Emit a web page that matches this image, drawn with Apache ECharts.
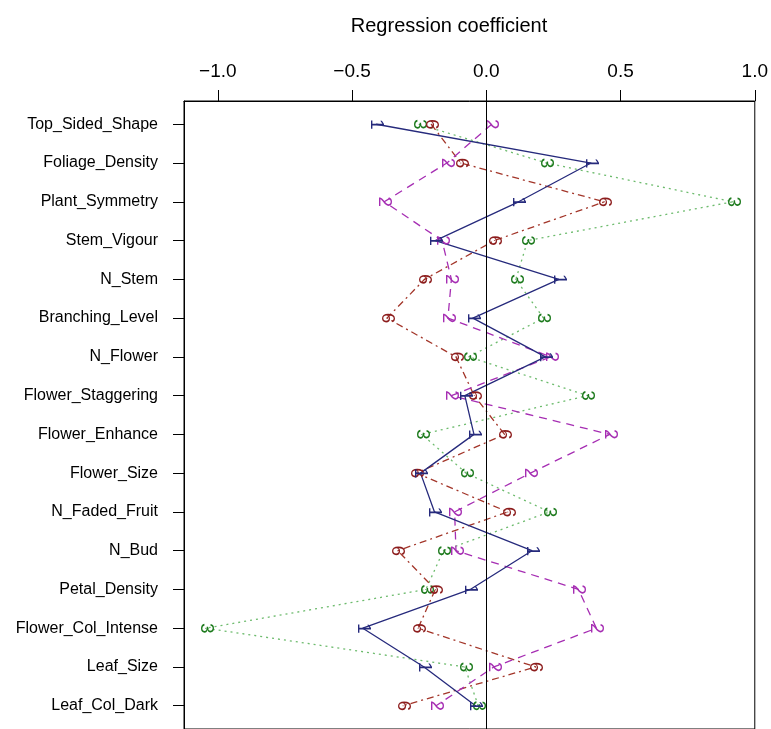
<!DOCTYPE html>
<html>
<head>
    <meta charset="utf-8">
    <script src="https://cdn.jsdelivr.net/npm/echarts@6/dist/echarts.min.js"></script>
</head>
<body style="margin:0">
<div id="main" style="width: 771px;height:729px;"></div>
<script type="text/javascript">
    // traits, top to bottom
    var traits = ['Top_Sided_Shape', 'Foliage_Density', 'Plant_Symmetry', 'Stem_Vigour', 'N_Stem',
        'Branching_Level', 'N_Flower', 'Flower_Staggering', 'Flower_Enhance', 'Flower_Size',
        'N_Faded_Fruit', 'N_Bud', 'Petal_Density', 'Flower_Col_Intense', 'Leaf_Size', 'Leaf_Col_Dark'];

    // regression coefficients per model
    var coef1 = [-0.41, 0.39, 0.12, -0.19, 0.27, -0.05, 0.22, -0.08, -0.046, -0.245, -0.193, 0.17, -0.06, -0.46, -0.232, -0.04];
    var coef2 = [0.02, -0.147, -0.38, -0.165, -0.13, -0.143, 0.24, -0.13, 0.46, 0.164, -0.118, -0.113, 0.343, 0.41, 0.028, -0.187];
    var coef3 = [-0.25, 0.224, 0.918, 0.154, 0.11, 0.213, -0.065, 0.377, -0.24, -0.075, 0.235, -0.16, -0.225, -1.045, -0.08, -0.03];
    var coef6 = [-0.205, -0.095, 0.44, 0.03, -0.23, -0.37, -0.113, -0.045, 0.068, -0.26, 0.08, -0.33, -0.19, -0.254, 0.184, -0.31];

    var xTicks = [-1.0, -0.5, 0.0, 0.5, 1.0];
    var yTicks = traits.map(function (t, i) { return i; });

    function pairs(vals) {
        return vals.map(function (v, i) { return [v, i]; });
    }

    function makeSeries(name, vals, lineColor, textColor, dash) {
        return {
            name: name,
            type: 'line',
            data: pairs(vals),
            symbol: 'circle',
            symbolSize: 1,
            itemStyle: { color: textColor },
            lineStyle: { color: lineColor, width: 1.3, type: dash },
            label: {
                show: true,
                position: 'inside',
                rotate: -90,
                formatter: name,
                color: textColor,
                fontSize: 19,
                fontFamily: 'Liberation Sans'
            },
            emphasis: { disabled: true },
            silent: true
        };
    }

    var myChart = echarts.init(document.getElementById('main'));

    var series = [
        makeSeries('3', coef3, '#6dbb6d', '#1d7a1d', [2, 4]),
        makeSeries('6', coef6, '#a3362a', '#8c1c1c', [7, 4, 2, 4]),
        makeSeries('2', coef2, '#a62eb3', '#a62eb3', [8, 6]),
        makeSeries('1', coef1, '#262a7c', '#262a7c', 'solid')
    ];
    series[3].markLine = {
        silent: true,
        symbol: 'none',
        label: { show: false },
        lineStyle: { color: '#000', type: 'solid', width: 1 },
        data: [{ xAxis: 0 }]
    };

    var option = {
        animation: false,
        backgroundColor: '#fff',
        title: {
            text: 'Regression coefficient',
            left: 444,
            top: 11,
            textAlign: 'center',
            textStyle: { fontSize: 20, fontWeight: 'normal', color: '#000', fontFamily: 'Liberation Sans' }
        },
        grid: {
            left: 184,
            top: 101,
            width: 573,
            height: 637,
            show: true,
            borderColor: '#000',
            borderWidth: 1
        },
        xAxis: {
            type: 'value',
            position: 'top',
            min: -1.126,
            max: 1.0,
            axisLine: { show: true, onZero: false, lineStyle: { color: '#000' } },
            axisTick: { show: true, customValues: xTicks, length: 11, lineStyle: { color: '#000' } },
            axisLabel: {
                customValues: xTicks,
                margin: 20,
                fontSize: 19,
                color: '#000',
                fontFamily: 'Liberation Sans',
                formatter: function (v) {
                    return (v < 0 ? '\u2212' : '') + Math.abs(v).toFixed(1);
                }
            },
            splitLine: { show: false }
        },
        yAxis: {
            type: 'value',
            inverse: true,
            min: -0.6,
            max: 15.6,
            axisLine: { show: true, onZero: false, lineStyle: { color: '#000' } },
            axisTick: { show: true, customValues: yTicks, length: 11, lineStyle: { color: '#000' } },
            axisLabel: {
                customValues: yTicks,
                margin: 26,
                fontSize: 16,
                color: '#000',
                fontFamily: 'Liberation Sans',
                formatter: function (v) { return traits[Math.round(v)]; }
            },
            splitLine: { show: false }
        },
        series: series
    };

    myChart.setOption(option);
</script>
</body>
</html>
